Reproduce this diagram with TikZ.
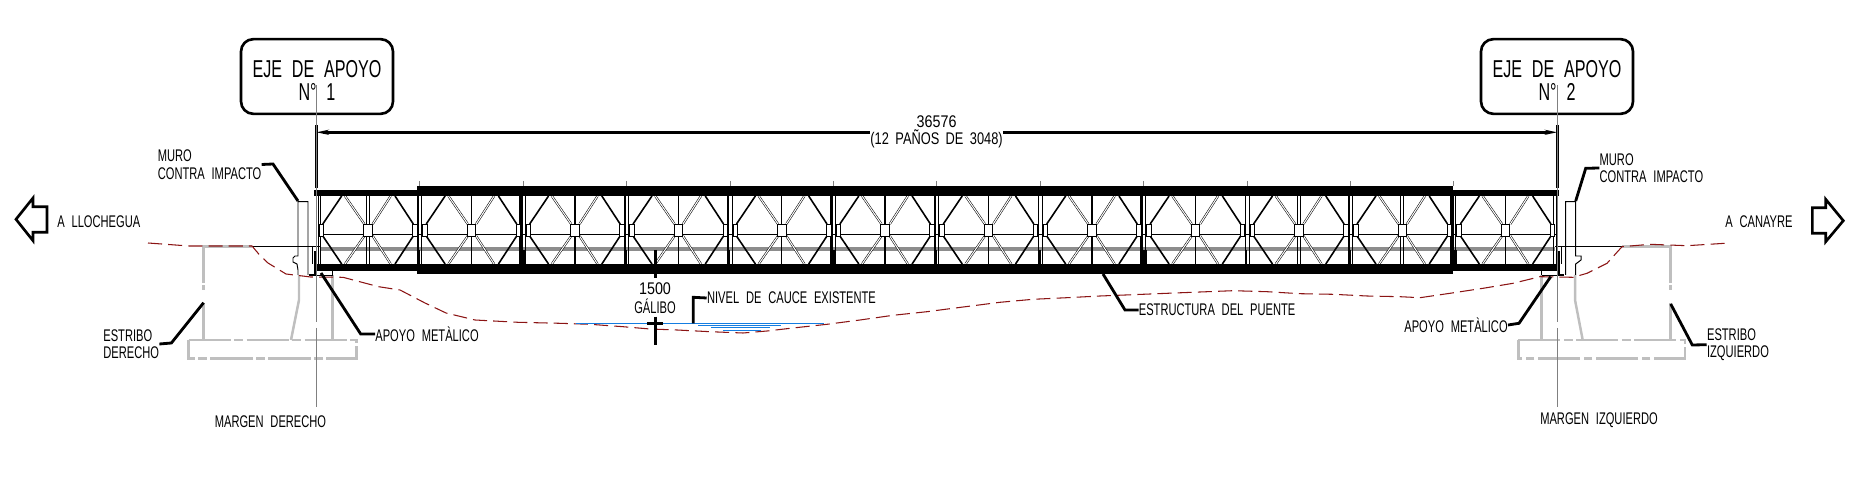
\documentclass[tikz,border=0pt]{standalone}
\usepackage{fontspec}
\setmainfont{Liberation Sans}[FakeStretch=0.66,WordSpace=2.2]
\newfontfamily\numfont{Liberation Sans}[FakeStretch=0.85]
\newfontfamily\cotafont{Liberation Sans}[FakeStretch=0.76,WordSpace=1.8]
\usepackage{tikz}
\usetikzlibrary{arrows.meta}
\pgfdeclarelayer{bg}
\pgfsetlayers{bg,main}
\definecolor{terreno}{RGB}{139,20,20}
\definecolor{agua}{RGB}{20,125,225}
\tikzset{
	lbl/.style={inner sep=0pt, font=\fontsize{9.6}{10}\selectfont},
	lblnum/.style={inner sep=0pt, font=\fontsize{9.6}{10}\selectfont\numfont},
	lblcota/.style={inner sep=0pt, font=\fontsize{9.6}{10}\selectfont\cotafont},
	ejebox/.style={draw, line width=1.5pt, rounded corners=7pt, minimum width=86.5pt, minimum height=42.5pt, inner sep=0pt, align=center, font=\fontsize{13.9}{13.4}\selectfont},
	leader/.style={line width=1.6pt},
	dimline/.style={line width=1.8pt},
	thin line/.style={line width=0.55pt},
	diag/.style={line width=0.9pt},
	dbl/.style={double, line width=0.3pt, double distance=0.6pt},
	estribo/.style={line width=1.4pt, color=black!25},
	dashdot/.style={estribo, dash pattern=on 24pt off 2pt on 5pt off 2pt},
	eje/.style={line width=0.55pt, color=black!50},
	terrain/.style={line width=0.6pt, color=terreno, dash pattern=on 8pt off 3.5pt},
	flecha/.style={line width=1.5pt, line join=miter},
}
\begin{document}
\begin{tikzpicture}[x=0.02cm, y=-0.02cm]
	\useasboundingbox (0,0) rectangle (1852,499);

	\node (box1) [ejebox] at (317, 76.5) {\rule{0pt}{14pt}EJE DE APOYO\\N° 1};
	\node (box2) [ejebox] at (1557, 76.5) {\rule{0pt}{14pt}EJE DE APOYO\\N° 2};
	\node (cota) [lblnum] at (936.6, 121.5) {36576};
	\node (panos) [lblcota] at (936.6, 139) {(12 PAÑOS DE 3048)};
	\node (muro1) [lbl, align=left, anchor=west] at (157.5, 164.5) {MURO\\CONTRA IMPACTO};
	\node (muro2) [lbl, align=left, anchor=west] at (1599.3, 168) {MURO\\CONTRA IMPACTO};
	\node (llo) [lbl, anchor=west] at (57, 222) {A LLOCHEGUA};
	\node (can) [lbl, anchor=west] at (1725, 222) {A CANAYRE};
	\node (est1) [lbl, align=left, anchor=west] at (103, 344) {ESTRIBO\\DERECHO};
	\node (est2) [lbl, align=left, anchor=west] at (1706.7, 344.7) {ESTRIBO\\IZQUIERDO};
	\node (apo1) [lbl, anchor=west] at (375, 334) {APOYO METÀLICO};
	\node (apo2) [lbl, anchor=west] at (1404, 325) {APOYO METÀLICO};
	\node (mar1) [lbl] at (270.5, 421.7) {MARGEN DERECHO};
	\node (mar2) [lbl] at (1599, 420.7) {MARGEN IZQUIERDO};
	\node (gal1) [lblnum] at (655, 288.3) {1500};
	\node (gal2) [lbl] at (655, 306) {GÁLIBO};
	\node (niv) [lbl, anchor=west] at (706.7, 298) {NIVEL DE CAUCE EXISTENTE};
	\node (puente) [lbl, anchor=west] at (1138.5, 310) {ESTRUCTURA DEL PUENTE};

	\coordinate (dimA) at (316.3, 132.3);
	\coordinate (dimB) at (1557.3, 132.3);
	\coordinate (ejeA) at (316.3, 85);
	\coordinate (ejeB) at (1557.3, 85);
	\coordinate (pmuro1) at (298, 201);
	\coordinate (pmuro2) at (1575.7, 201);
	\coordinate (pest1) at (203.6, 302.7);
	\coordinate (pest2) at (1670.7, 304);
	\coordinate (papo1) at (321, 273);
	\coordinate (papo2) at (1550.7, 276.7);
	\coordinate (ppue) at (1103, 274);
	\coordinate (pniv) at (693.3, 323.3);

	\begin{pgfonlayer}{bg}
		\fill [black!45] (320, 246.7) rectangle (1555, 251);
		\draw [thin line] (318, 234.3) -- (1556, 234.3);
		\foreach \p in {0,...,11} {
			\begin{scope}[shift={({316.3+103.42*\p},0)}]
				\draw [diag] (6.5,224) -- (25.4,196) (78.7,196) -- (97,224);
				\draw [diag] (6.5,236) -- (25.4,264) (78.7,264) -- (97,236);
				\draw [dbl] (28.7,196) -- (48,224) (56.4,224) -- (74.4,196);
				\draw [dbl] (28.7,264) -- (48,236) (56.4,236) -- (74.4,264);
			\end{scope}
		}
		\foreach \p in {1,...,8,11} {
			\draw [line width=0.85pt] ({316.3+103.42*(\p+0.5)},196) -- ({316.3+103.42*(\p+0.5)},264);
		}
		\foreach \p in {0,9,10} {
			\draw [thin line] ({316.3+103.42*(\p+0.5)-1.6},196) -- ({316.3+103.42*(\p+0.5)-1.6},264);
			\draw [thin line] ({316.3+103.42*(\p+0.5)+1.6},196) -- ({316.3+103.42*(\p+0.5)+1.6},264);
		}
		\foreach \p in {1,...,11} {
			\draw [line width=0.9pt] ({316.3+103.42*\p-1.8},196) -- ({316.3+103.42*\p-1.8},264);
			\draw [thin line] ({316.3+103.42*\p+2},196) -- ({316.3+103.42*\p+2},264);
			\draw [eje] ({316.3+103.42*\p},181) -- ({316.3+103.42*\p},186);
			\draw [line width=1.5pt] ({316.3+103.42*\p-1},250) -- ({316.3+103.42*\p-1},264);
		}
		\foreach \p in {2,5,8,11} {
			\draw [line width=3.4pt] ({316.3+103.42*\p},250) -- ({316.3+103.42*\p},264);
			\draw [line width=2pt] ({316.3+103.42*\p-2},196) -- ({316.3+103.42*\p-2},264);
		}
		\draw [thin line] (318.2,196) -- (318.2,264) (320.6,196) -- (320.6,264);
		\draw [thin line] (1553.5,196) -- (1553.5,264) (1556,196) -- (1556,264);

		\draw [estribo] (252,246.7) -- (203.6,246.7) -- (203.6,283) (203.6,285.5) -- (203.6,290) (203.6,302.7) -- (203.6,340);
		\draw [estribo] (332.5,275) -- (332.5,340);
		\draw [estribo] (299,275) -- (299,300) -- (291,340);
		\draw [dashdot] (188.6,340) -- (356.4,340) -- (356.4,358.3) -- (188.6,358.3) -- cycle;
		\draw [estribo] (1622,246.7) -- (1670.7,246.7) -- (1670.7,283) (1670.7,285.5) -- (1670.7,290) (1670.7,302.7) -- (1670.7,340);
		\draw [estribo] (1541.3,275) -- (1541.3,340);
		\draw [estribo] (1575,275) -- (1575,300) -- (1582.7,340);
		\draw [dashdot] (1518.3,340) -- (1685,340) -- (1685,358.3) -- (1518.3,358.3) -- cycle;

		\draw [thin line] (252,246.7) -- (320,246.7) (1555,246.7) -- (1622,246.7);
		\draw [thin line] (298,275) -- (298,270) -- (297,264) -- (293,262) -- (293,258) -- (295,256) -- (298,256) -- (298,201.7) -- (308,201.7) -- (308,275);
		\draw [thin line] (1575.7,275) -- (1575.7,264) -- (1581,260) -- (1581,256) -- (1575.7,256) -- (1575.7,201.7) -- (1565.7,201.7) -- (1565.7,275);
		\draw [thin line] (312.5,264) -- (312.5,247) (332.5,275) -- (310,275) (332.5,264) -- (332.5,275);
		\draw [thin line] (1561,247) -- (1561,264) (1541.7,275) -- (1564,275) (1541.7,264) -- (1541.7,275);
		\draw [line width=1.6pt] (315,251) -- (315,275) -- (309,275);
		\draw [line width=1.6pt] (1558.5,251) -- (1558.5,275) -- (1564,275);

		\draw [terrain] (148,243) -- (189,246) -- (252,246) -- (259,254.3) -- (268,263) -- (286,274) -- (310.7,277) -- (343,277.3) -- (378.6,286.7) -- (400,290) -- (425,303) -- (446,313) -- (475,320) -- (518,322.3) -- (560,323.3) -- (590,324.3) -- (623,326.7) -- (650,329) -- (677,330) -- (710,331.7) -- (743,333) -- (767,331) -- (793,328) -- (827,324.3) -- (860,320) -- (893,315.3) -- (927,311.7) -- (953,308.3) -- (1000,302.3) -- (1033,299.3) -- (1067,297.7) -- (1100,296) -- (1133,294.7) -- (1167,293.3) -- (1200,292) -- (1233,290.7) -- (1267,291.7) -- (1300,293.7) -- (1333,294.3) -- (1367,296) -- (1400,296.7) -- (1420,297.7) -- (1450,293.3) -- (1483,288.3) -- (1513,283.3) -- (1540,276.7) -- (1573,277.3) -- (1587,273.3) -- (1607,263.3) -- (1622,246.7) -- (1650,244.3) -- (1687,245.7) -- (1725,243.3);

		\draw [agua, line width=0.7pt] (576,323.3) -- (824,323.3);
		\draw [agua, line width=0.7pt] (698,325.3) -- (780.7,325.3);
		\draw [agua, line width=0.7pt] (711,327.5) -- (770,327.5);
		\draw [agua, line width=0.7pt] (723.3,330.3) -- (761,330.3);
	\end{pgfonlayer}

	\foreach \p in {0,...,11} {
		\begin{scope}[shift={({316.3+103.42*\p},0)}]
			\draw [thin line, fill=white] (3,224) rectangle (7.5,236);
			\draw [thin line, fill=white] (47.5,224) rectangle (56,236);
			\draw [thin line, fill=white] (96.5,224) rectangle (101,236);
		\end{scope}
	}
	\fill (314,190) rectangle (417.3,196);
	\fill (417.3,186) rectangle (1452.7,196);
	\fill (1452.7,190) rectangle (1559,196);
	\fill (314,264) rectangle (417.3,270.7);
	\fill (417.3,264) rectangle (1452.7,274);
	\fill (1452.7,264) rectangle (1559,270.7);

	\draw [dimline] (316.3,125) -- (316.3,188);
	\draw [dimline] (1557.3,125) -- (1557.3,188);
	\draw [dimline, {Stealth[length=7pt,width=2.8pt]}-] (dimA) -- (dimA -| panos.west);
	\draw [dimline, -{Stealth[length=7pt,width=2.8pt]}] (dimB -| panos.east) -- (dimB);

	\draw [leader] (pmuro1) -- (273,164) -- (muro1.east);
	\draw [leader] (pmuro2) -- (1585.7,168.3) -- (muro2.west);
	\draw [leader] (pest1) -- (171.4,343) -- (est1.east);
	\draw [leader] (pest2) -- (1692.3,345) -- (est2.west);
	\draw [leader] (papo1) -- (360.7,334) -- (apo1.west);
	\draw [leader] (papo2) -- (1519,323.3) -- (apo2.east);
	\draw [leader] (ppue) -- (1125,310) -- (puente.west);
	\draw [leader] (pniv) -- (693.3,297.3) -- (niv.west);

	\draw [line width=2pt] (655.3,250) -- (655.3,278.3);
	\draw [line width=2pt] (655.3,316.7) -- (655.3,345);
	\draw [line width=1.7pt] (647.3,323.3) -- (662.7,323.3);

	\draw [flecha] (16,219.3) -- (33,198) -- (33,206.7) -- (47,206.7) -- (47,232.3) -- (33,232.3) -- (33,240.7) -- cycle;
	\draw [flecha] (1843.3,220.7) -- (1825.7,199.3) -- (1825.7,207.7) -- (1812.3,207.7) -- (1812.3,233.3) -- (1825.7,233.3) -- (1825.7,241.7) -- cycle;

	\draw [eje] (ejeA) -- (316.3,322) (316.3,328) -- (316.3,407);
	\draw [eje] (ejeB) -- (1557.3,322) (1557.3,328) -- (1557.3,407);
\end{tikzpicture}
\end{document}
